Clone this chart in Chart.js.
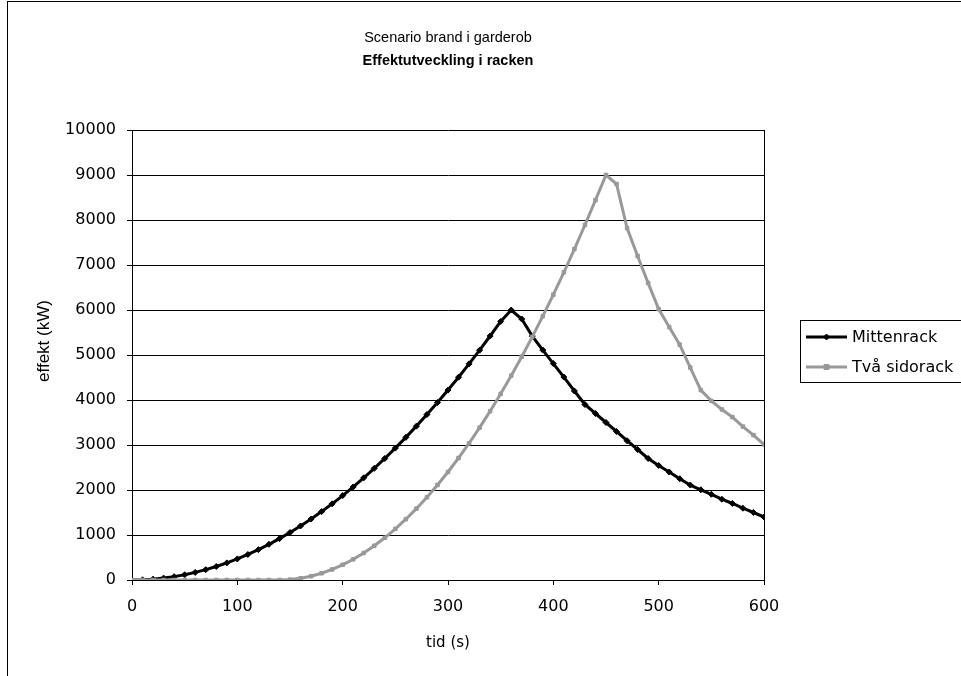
<!DOCTYPE html>
<html><head><meta charset="utf-8">
<script src="https://cdn.jsdelivr.net/npm/chart.js@4.4.1/dist/chart.umd.min.js"></script>
<style>html,body{margin:0;padding:0;background:#fff;overflow:hidden}#wrap{width:961px;height:676px;position:relative}</style>
</head><body><div id="wrap"><canvas id="c"></canvas></div>
<script>
const titleLine1 = "Scenario brand i garderob";
const titleLine2 = "Effektutveckling i racken";
const xAxisTitle = "tid (s)";
const yAxisTitle = "effekt (kW)";
const seriesNames = ["Mittenrack", "Två sidorack"];

const times = [0,10,20,30,40,50,60,70,80,90,100,110,120,130,140,150,160,170,180,190,200,210,220,230,240,250,260,270,280,290,300,310,320,330,340,350,360,370,380,390,400,410,420,430,440,450,460,470,480,490,500,510,520,530,540,550,560,570,580,590,600];

const mittenrack = [0,5,19,42,75,117,169,230,300,380,469,567,675,793,919,1055,1201,1355,1520,1693,1876,2068,2270,2481,2701,2931,3170,3419,3677,3944,4221,4507,4803,5107,5422,5745,6000,5800,5420,5110,4810,4510,4200,3900,3700,3500,3300,3095,2900,2700,2545,2400,2250,2110,2005,1905,1795,1700,1595,1500,1400];

const tvaSidorack = [0,0,0,0,0,0,0,0,0,0,0,0,0,0,0,9,38,84,150,234,338,460,600,760,938,1135,1351,1585,1838,2111,2401,2711,3039,3386,3752,4137,4540,4962,5403,5863,6341,6838,7354,7889,8442,9000,8800,7820,7200,6600,6020,5620,5230,4720,4220,3980,3790,3620,3410,3220,3010];

const xTickValues = [0,100,200,300,400,500,600];
const yTickValues = [0,1000,2000,3000,4000,5000,6000,7000,8000,9000,10000];

const tickFont = {family: "'DejaVu Sans'", size: 16};

function drawMarker(ctx, style, x, y, r, color) {
  ctx.save();
  ctx.fillStyle = color; ctx.strokeStyle = color; ctx.lineWidth = 1;
  ctx.beginPath();
  if (style === 'rectRot') {
    ctx.moveTo(x, y - r); ctx.lineTo(x + r, y); ctx.lineTo(x, y + r); ctx.lineTo(x - r, y); ctx.closePath();
  } else {
    ctx.rect(x - r, y - r, 2 * r, 2 * r);
  }
  ctx.fill(); ctx.stroke();
  ctx.restore();
}

const decorPlugin = {
  id: 'decor',
  afterDraw(chart) {
    const ctx = chart.ctx;
    const ca = chart.chartArea;
    ctx.save();
    // outer frame
    ctx.strokeStyle = '#000'; ctx.lineWidth = 1;
    ctx.strokeRect(7.5, 1.5, 1200, 1200);
    // titles
    ctx.fillStyle = '#000';
    ctx.textAlign = 'center'; ctx.textBaseline = 'middle';
    const cx = (ca.left + ca.right) / 2;
    ctx.font = "14.5px 'Liberation Sans'";
    ctx.fillText(titleLine1, cx, 38);
    ctx.font = "bold 14.5px 'Liberation Sans'";
    ctx.fillText(titleLine2, cx, 61);
    // y axis title
    ctx.save();
    ctx.translate(44, 341);
    ctx.rotate(-Math.PI / 2);
    ctx.font = "17px 'Liberation Sans'";
    ctx.fillText(yAxisTitle, 0, 0);
    ctx.restore();
    // legend
    const lx = 800.5, ly = 320.5;
    ctx.strokeStyle = '#000'; ctx.lineWidth = 1;
    ctx.strokeRect(lx, ly, 300, 62);
    chart.data.datasets.forEach((ds, i) => {
      const y = 337 + i * 30;
      ctx.strokeStyle = ds.borderColor; ctx.lineWidth = ds.borderWidth;
      ctx.beginPath(); ctx.moveTo(806, y); ctx.lineTo(847, y); ctx.stroke();
      drawMarker(ctx, ds.pointStyle, 826.5, y, ds.pointRadius, ds.pointBackgroundColor);
      ctx.fillStyle = '#000';
      ctx.textAlign = 'left'; ctx.textBaseline = 'middle';
      ctx.font = "16px 'DejaVu Sans'";
      ctx.fillText(ds.label, 852, y + 1);
    });
    ctx.restore();
  }
};

new Chart(document.getElementById('c'), {
  type: 'line',
  data: {
    datasets: [
      {
        label: seriesNames[0],
        data: times.map((t, i) => ({x: t, y: mittenrack[i]})),
        borderColor: '#000000', borderWidth: 3,
        pointStyle: 'rectRot', pointRadius: 3, pointHoverRadius: 3,
        pointBackgroundColor: '#000000', pointBorderColor: '#000000', pointBorderWidth: 1,
        tension: 0, order: 1
      },
      {
        label: seriesNames[1],
        data: times.map((t, i) => ({x: t, y: tvaSidorack[i]})),
        borderColor: '#999999', borderWidth: 3,
        pointStyle: 'rect', pointRadius: 2.5, pointHoverRadius: 2.5,
        pointBackgroundColor: '#999999', pointBorderColor: '#999999', pointBorderWidth: 1,
        tension: 0, order: 0
      }
    ]
  },
  options: {
    responsive: true, maintainAspectRatio: false, animation: false, devicePixelRatio: 1,
    layout: {padding: {left: 0, top: 130, right: 197, bottom: 0}},
    plugins: {legend: {display: false}, title: {display: false}, tooltip: {enabled: false}},
    events: [],
    scales: {
      x: {
        type: 'linear', min: 0, max: 600,
        afterBuildTicks: s => { s.ticks = xTickValues.map(v => ({value: v})); },
        afterFit: s => { s.height = 96; },
        grid: {
          drawOnChartArea: true, drawTicks: true, tickLength: 5, lineWidth: 1,
          color: c => (c.tick && c.tick.value === 600) ? '#000' : 'rgba(0,0,0,0)',
          tickColor: '#000'
        },
        border: {display: true, color: '#000', width: 1},
        ticks: {font: tickFont, color: '#000', padding: 12, maxRotation: 0, callback: v => String(v)},
        title: {display: true, text: xAxisTitle, color: '#000', font: {family: "'DejaVu Sans'", size: 15}, padding: {top: 0, bottom: 24}}
      },
      y: {
        type: 'linear', min: 0, max: 10000,
        afterBuildTicks: s => { s.ticks = yTickValues.map(v => ({value: v})); },
        afterFit: s => { s.width = 132; },
        grid: {color: '#000', tickColor: '#000', lineWidth: 1, drawTicks: true, tickLength: 5},
        border: {display: true, color: '#000', width: 1},
        ticks: {font: tickFont, color: '#000', padding: 11, callback: v => String(v)}
      }
    }
  },
  plugins: [decorPlugin]
});
</script>
</body></html>
